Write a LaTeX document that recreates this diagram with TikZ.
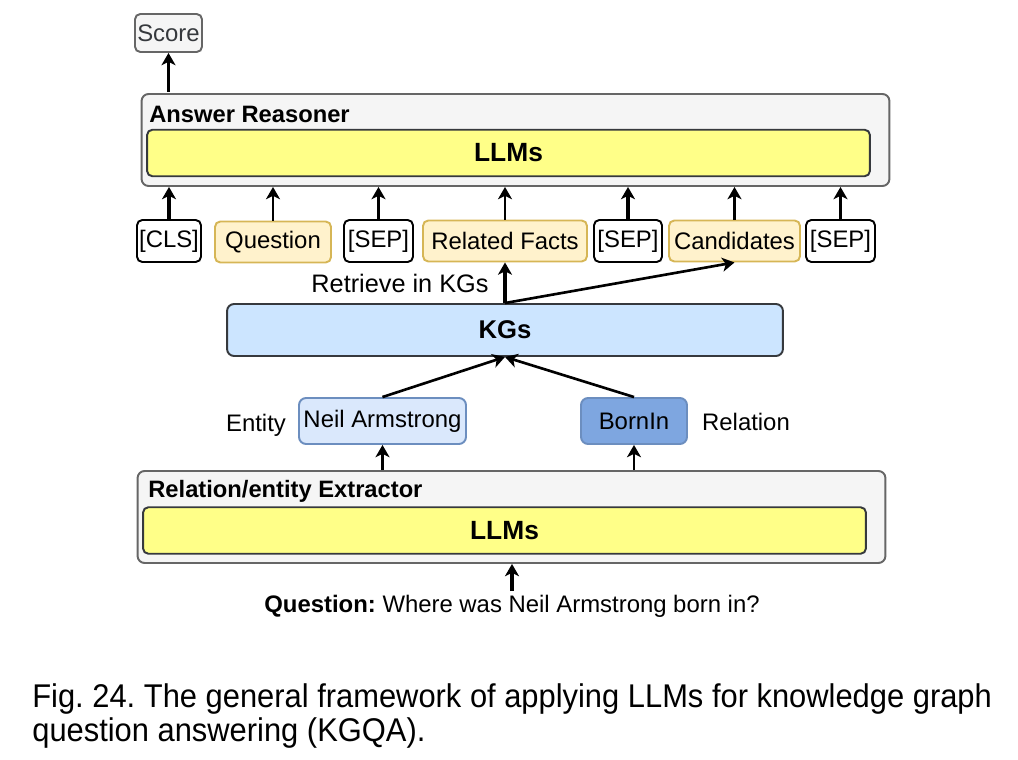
\documentclass[tikz,border=0pt]{standalone}
\usepackage{fontspec}
\setmainfont{Liberation Sans}
\newfontfamily\capfont[FakeStretch=0.94]{Liberation Sans}
\usetikzlibrary{arrows.meta}
\definecolor{boxgray}{HTML}{F5F5F5}
\definecolor{linegray}{HTML}{666666}
\definecolor{llmyellow}{HTML}{FFFF88}
\definecolor{darkline}{HTML}{36393D}
\definecolor{tokfill}{HTML}{FFF2CC}
\definecolor{tokline}{HTML}{D6B656}
\definecolor{kgblue}{HTML}{CCE5FF}
\definecolor{entblue}{HTML}{DAE8FC}
\definecolor{relblue}{HTML}{7EA6E0}
\definecolor{blueline}{HTML}{6C8EBF}
\frenchspacing

\begin{document}
\begin{tikzpicture}[x=0.02cm, y=-0.02cm,
	every node/.style={font=\fontsize{13.6}{16}\selectfont},
	modulebox/.style={draw=linegray, fill=boxgray, rounded corners=4pt, line width=1.1pt, minimum width=14.96cm, minimum height=1.84cm},
	llmbox/.style={draw=darkline, fill=llmyellow, rounded corners=3pt, line width=1.1pt, minimum width=14.46cm, minimum height=0.93cm, font=\fontsize{15}{18}\selectfont\bfseries},
	sepbox/.style={draw=black, fill=white, rounded corners=3pt, line width=1.1pt, minimum height=0.84cm, inner sep=1pt},
	tokbox/.style={draw=tokline, fill=tokfill, rounded corners=3pt, line width=1.1pt, minimum height=0.82cm, inner sep=1pt},
	title/.style={anchor=west, inner sep=0pt, font=\fontsize{13.5}{16}\selectfont\bfseries},
	arr/.style={-{Stealth[length=7pt, width=8pt, inset=2pt]}, line width=1.5pt},
	fatarr/.style={-{Stealth[length=7pt, width=8pt, inset=2pt]}, line width=2.2pt}]
	\useasboundingbox (0,0) rectangle (1018,760);

	\node [draw=linegray, fill=boxgray, rounded corners=3pt, line width=1.1pt, minimum width=1.34cm, minimum height=0.76cm, inner sep=1pt, text=darkline] (score) at (168.5,33) {Score};

	\node [modulebox] (reasoner) at (515.5,140) {};
	\node [title] (reasonertitle) at (149,114) {Answer Reasoner};
	\node [llmbox] (llmtop) at (508.5,153) {LLMs};

	\node [sepbox, minimum width=1.28cm] (cls) at (169,241) {[CLS]};
	\node [tokbox, minimum width=2.32cm] (question) at (273,242) {Question};
	\node [sepbox, minimum width=1.38cm] (sepa) at (378.5,241) {[SEP]};
	\node [tokbox, minimum width=3.28cm] (facts) at (505,241) {Related Facts};
	\node [sepbox, minimum width=1.36cm] (sepb) at (628,241) {[SEP]};
	\node [tokbox, minimum width=2.62cm] (cands) at (734.5,241) {Candidates};
	\node [sepbox, minimum width=1.38cm] (sepc) at (840.5,241) {[SEP]};

	\node [font=\fontsize{14.4}{17}\selectfont] (retrieve) at (400,283) {Retrieve in KGs};

	\node [draw=darkline, fill=kgblue, rounded corners=4pt, line width=1.1pt, minimum width=11.12cm, minimum height=1.04cm, font=\fontsize{14.6}{17}\selectfont\bfseries] (kgs) at (505,330) {KGs};

	\node [draw=blueline, fill=entblue, rounded corners=4pt, line width=1.1pt, minimum width=3.34cm, minimum height=0.92cm, inner sep=1pt] (neil) at (382.5,421) {Neil Armstrong};
	\node [draw=blueline, fill=relblue, rounded corners=4pt, line width=1.1pt, minimum width=2.12cm, minimum height=0.92cm] (bornin) at (634,421) {BornIn};
	\node (entity) at (256,425) {Entity};
	\node (relation) at (746,422) {Relation};

	\node [modulebox] (extractor) at (511.5,517) {};
	\node [title] (extractortitle) at (148,491) {Relation/entity Extractor};
	\node [llmbox] (llmbottom) at (504.5,530.5) {LLMs};

	\node [inner sep=2pt] (query) at (512,606) {\textbf{Question:}~Where was Neil Armstrong born in?};

	\node [anchor=base west, inner sep=0pt, font=\fontsize{18.7}{22}\capfont] (captiona) at (32,707) {Fig. 24. The general framework of applying LLMs for knowledge graph};
	\node [anchor=base west, inner sep=0pt, font=\fontsize{18.7}{22}\capfont] (captionb) at (32,741) {question answering (KGQA).};

	\draw [arr] (reasoner.north -| score.south) ++(0,-1) -- (score.south);
	\draw [fatarr] (cls.north) -- (cls.north |- reasoner.south);
	\draw [arr] (question.north) -- (question.north |- reasoner.south);
	\draw [fatarr] (sepa.north) -- (sepa.north |- reasoner.south);
	\draw [arr] (facts.north) -- (facts.north |- reasoner.south);
	\draw [fatarr] (sepb.north) -- (sepb.north |- reasoner.south);
	\draw [fatarr] (cands.north) -- (cands.north |- reasoner.south);
	\draw [arr] (sepc.north) -- (sepc.north |- reasoner.south);

	\draw [fatarr] (kgs.north) -- (facts.south);
	\draw [arr] (kgs.north) -- (cands.south);
	\draw [arr] (neil.north) -- (kgs.south);
	\draw [arr] (bornin.north) -- (kgs.south);
	\draw [arr] (extractor.north -| neil.south) -- (neil.south);
	\draw [arr] (extractor.north -| bornin.south) -- (bornin.south);
	\draw [fatarr] (query.north) -- (extractor.south -| query.north);
\end{tikzpicture}
\end{document}
